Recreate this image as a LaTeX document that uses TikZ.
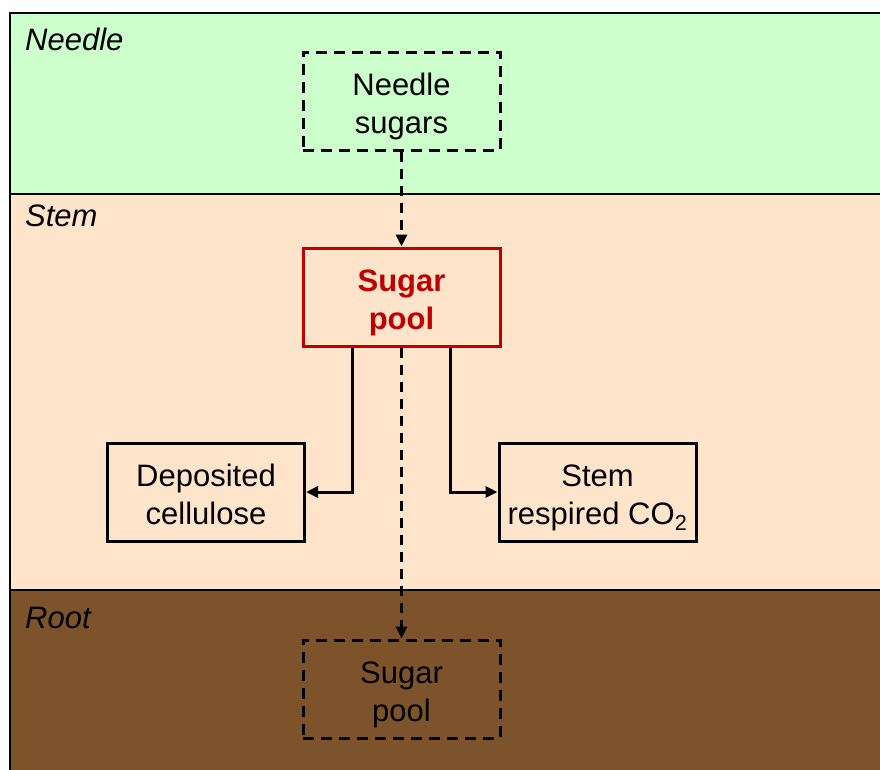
\documentclass[tikz,border=0pt]{standalone}
\usepackage{fontspec}
\setmainfont{Liberation Sans}
\usetikzlibrary{arrows.meta}

\definecolor{needlegreen}{HTML}{CCFFCC}
\definecolor{stempeach}{HTML}{FFE4CC}
\definecolor{rootbrown}{HTML}{7C532B}
\definecolor{poolred}{HTML}{C00000}

\tikzset{
  box/.style={draw, line width=3pt, minimum width=197pt, minimum height=98pt,
    inner sep=0pt, align=center, font=\fontsize{31}{38}\selectfont,
    text height=70pt, text depth=6pt},
  dashbox/.style={box, dash pattern=on 11pt off 7pt},
  flow/.style={line width=3pt, -{Triangle[length=12pt,width=11pt]}},
  dashflow/.style={flow, dash pattern=on 10pt off 7pt},
  region/.style={anchor=base west, inner sep=0pt, font=\fontsize{31}{36}\selectfont\itshape}
}

\begin{document}
\begin{tikzpicture}[x=1pt, y=-1pt]
    \useasboundingbox (0,0) rectangle (880,769);
    \clip (0,0) rectangle (880,769);

    % Layers
    \fill[needlegreen] (10,13) rectangle (884,194);
    \fill[stempeach] (10,194) rectangle (884,590);
    \fill[rootbrown] (10,590) rectangle (884,773);
    \draw[line width=2pt] (884,13) -- (10,13) -- (10,773);
    \draw[line width=2pt] (10,194) -- (884,194);
    \draw[line width=2pt] (10,590) -- (884,590);

    % Layer names
    \foreach \y/\name in {50/Needle, 226/Stem, 628/Root}
        \node[region] (lbl\name) at (25,\y) {\name};

    % Pools
    \node[dashbox] (needle) at (401.5,101) {Needle\\sugars};
    \node[box, draw=poolred, text=poolred, font=\fontsize{31}{38}\selectfont\bfseries] (pool) at (401.5,297) {Sugar\\pool};
    \node[box] (cellulose) at (206,492) {Deposited\\cellulose};
    \node[box] (co2) at (597.5,492) {Stem\\respired CO\textsubscript{2}};
    \node[dashbox] (rootpool) at (401.5,689) {Sugar\\pool};

    % Fluxes
    \draw[dashflow] (needle) -- (pool);
    \draw[dashflow] (pool) -- (rootpool);
    \draw[flow] ([xshift=-49pt]pool.south) |- (cellulose.east);
    \draw[flow] ([xshift=49pt]pool.south) |- (co2.west);
\end{tikzpicture}
\end{document}
